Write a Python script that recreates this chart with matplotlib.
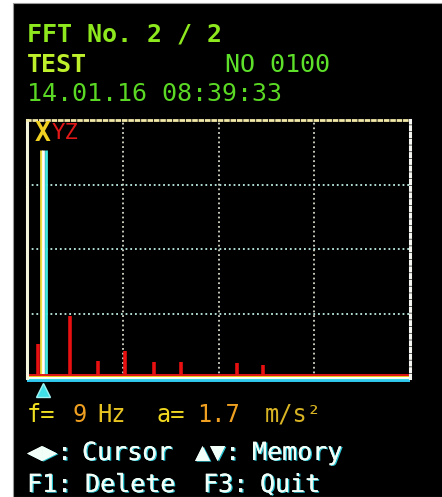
import matplotlib
matplotlib.use("Agg")
import matplotlib.pyplot as plt
from matplotlib.patches import Rectangle
from matplotlib.transforms import ScaledTranslation
import matplotlib.patheffects as pe

# --- DATA ---
freqs = [6.2, 24.1, 39.9, 55.0, 71.3, 86.4, 117.9, 132.5]      # Hz
amps = [0.25, 0.46, 0.13, 0.20, 0.12, 0.12, 0.11, 0.10]         # m/s²
cursor_f = 9
cursor_a = 1.7
f_max = 215
a_max = 1.92
header = ["FFT No. 2 / 2", "TEST", "NO 0100", "14.01.16 08:39:33"]
readout = [("f=", 27), ("9", 72), ("Hz", 97), ("a=", 157), ("1.7", 197), ("m/s²", 265)]
keys1 = [("◀▶:", 27), ("Cursor", 82), ("▲▼:", 195), ("Memory", 252)]
keys2 = [("F1:", 27), ("Delete", 85), ("F3:", 203), ("Quit", 260)]

W, H = 442, 497
MONO = ["DejaVu Sans Mono", "DejaVu Sans"]


def px(x, y):
    return x / W, 1 - y / H


def main():
    fig = plt.figure(figsize=(W / 100, H / 100), dpi=100, facecolor="white")
    fig.patches.append(Rectangle((13 / W, 0), 1, 1 - 3 / H, transform=fig.transFigure,
                                 facecolor="black", edgecolor="#9a9a9a", lw=0.8, zorder=-5))

    # --- header text ---
    fig.text(*px(27, 35), header[0], color="#8ee81e", fontsize=18, fontweight="bold",
             family=MONO, va="center")
    fig.text(*px(27, 65), header[1], color="#bdf02a", fontsize=18, fontweight="bold",
             family=MONO, va="center")
    fig.text(*px(225, 65), header[2], color="#5ee02a", fontsize=18, family=MONO, va="center")
    fig.text(*px(27, 94), header[3], color="#5ad824", fontsize=18, family=MONO, va="center")

    # --- spectrum axes ---
    ax = fig.add_axes([27 / W, 1 - 378 / H, 383 / W, 258 / H])
    ax.set_facecolor("black")
    ax.set_xlim(0, f_max)
    ax.set_ylim(0, a_max)
    ax.set_xticks([f_max * i / 4 for i in range(1, 4)])
    ax.set_yticks([a_max * i / 4 for i in range(1, 4)])
    ax.tick_params(length=0, labelbottom=False, labelleft=False)
    ax.xaxis.grid(True, color="#d6d8c8", lw=1.3, linestyle=(0, (1, 1.6)))
    ax.yaxis.grid(True, color="#bfeee4", lw=1.3, linestyle=(0, (1, 1.6)))
    ax.set_axisbelow(True)

    ax.spines["left"].set_color("#f4f4dc")
    ax.spines["left"].set_linewidth(2.2)
    ax.spines["top"].set_color("#f2e8a8")
    ax.spines["top"].set_linewidth(2.0)
    ax.spines["top"].set_linestyle((0, (1, 1.3)))
    ax.spines["right"].set_color("#f4f4f0")
    ax.spines["right"].set_linewidth(2.2)
    ax.spines["right"].set_linestyle((0, (1, 1.2)))
    ax.spines["bottom"].set_visible(False)

    ax.vlines(freqs, 0, amps, color="#e81010", lw=2.6)

    # cursor line (yellow / white / cyan fringes)
    for dx, c in [(-2.5, "#f0e040"), (0, "#ffffff"), (2.5, "#40e8e0")]:
        off = ax.transData + ScaledTranslation(dx / 100, 0, fig.dpi_scale_trans)
        ax.vlines([cursor_f], 0, [cursor_a], color=c, lw=2.0, transform=off)

    # bottom stripe
    for dy, c in [(3, "#e01818"), (1.5, "#f0d020"), (0, "#ffffff"), (-1.5, "#38e0e8"),
                  (-3, "#30c8f0")]:
        off = ax.transAxes + ScaledTranslation(0, dy / 100, fig.dpi_scale_trans)
        ax.plot([0, 1], [0, 0], color=c, lw=1.4, transform=off, clip_on=False,
                solid_capstyle="butt")

    # cursor marker
    off = ax.transData + ScaledTranslation(0, -12 / 100, fig.dpi_scale_trans)
    ax.plot([cursor_f], [0], marker="^", ms=10, color="#40e0e8", mec="#a0f4f4",
            transform=off, clip_on=False)

    fig.text(*px(35, 134), "X", color="#f0d020", fontsize=19, fontweight="bold",
             family=MONO, va="center")
    fig.text(*px(52, 133), "YZ", color="#e01818", fontsize=16, family=MONO, va="center")

    # --- readout line ---
    rcols = ["#f0e020", "#f0a020", "#e8c422", "#f0d820", "#f0a020", "#d8b424"]
    for (s, x), c in zip(readout, rcols):
        fig.text(*px(x, 415), s, color=c, fontsize=17, family=MONO, va="center")

    # --- key help lines ---
    shadow = [pe.withSimplePatchShadow(offset=(1, -0.5), shadow_rgbFace="#30d8e8", alpha=0.9),
              pe.Normal()]
    for s, x in keys1:
        fig.text(*px(x, 453), s, color="#f2fff8", fontsize=18, family=MONO, va="center",
                 path_effects=shadow)
    for s, x in keys2:
        fig.text(*px(x, 485), s, color="#f2fff8", fontsize=18, family=MONO, va="center",
                 path_effects=shadow)

    fig.savefig("out.png", dpi=100, facecolor=fig.get_facecolor())


if __name__ == "__main__":
    main()
